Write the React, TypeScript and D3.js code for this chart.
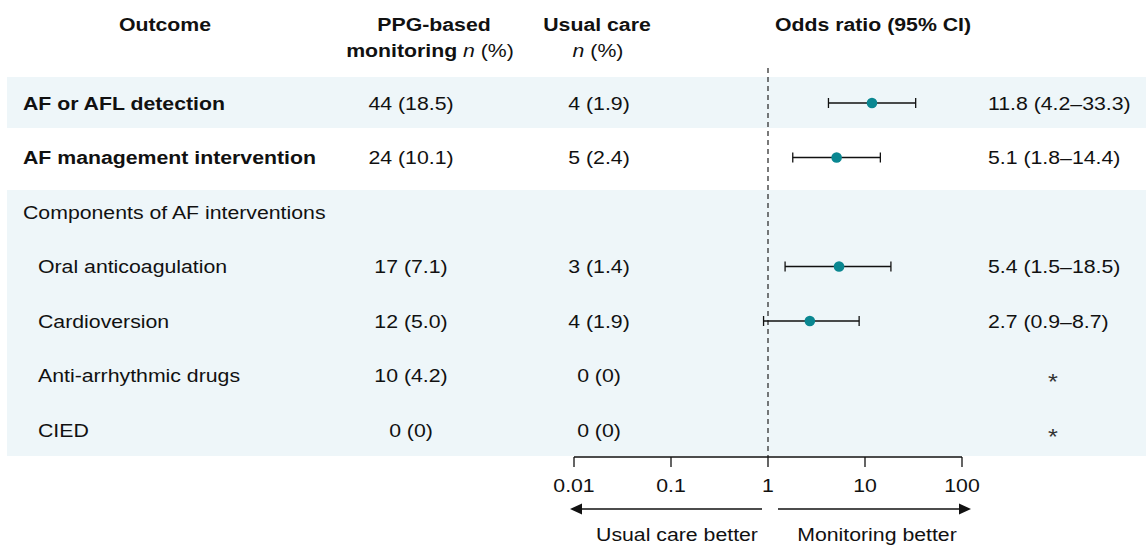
import React from "react";
import * as d3 from "d3";

const outcomes = [
  "AF or AFL detection",
  "AF management intervention",
  "Components of AF interventions",
  "Oral anticoagulation",
  "Cardioversion",
  "Anti-arrhythmic drugs",
  "CIED",
];
const rowKinds = ["main", "main", "group", "sub", "sub", "sub", "sub"];
const ppgValues = ["44 (18.5)", "24 (10.1)", "", "17 (7.1)", "12 (5.0)", "10 (4.2)", "0 (0)"];
const usualValues = ["4 (1.9)", "5 (2.4)", "", "3 (1.4)", "4 (1.9)", "0 (0)", "0 (0)"];
const oddsRatio: (number | null)[] = [11.8, 5.1, null, 5.4, 2.7, null, null];
const ciLow: (number | null)[] = [4.2, 1.8, null, 1.5, 0.9, null, null];
const ciHigh: (number | null)[] = [33.3, 14.4, null, 18.5, 8.7, null, null];
const orLabels = ["11.8 (4.2–33.3)", "5.1 (1.8–14.4)", "", "5.4 (1.5–18.5)", "2.7 (0.9–8.7)", "*", "*"];
const axisTicks = [0.01, 0.1, 1, 10, 100];
const axisTickLabels = ["0.01", "0.1", "1", "10", "100"];
const bandGroups = [[0, 0], [2, 6]];

const W = 1146;
const H = 545;
const SX = 1.15;
const FS = 18.5;
const FONT = "'Liberation Sans', Arial, Helvetica, sans-serif";
const TEAL = "#0a8791";
const BAND = "#eef6f9";

const T = ({ x, y, anchor = "start", weight = 400, fill = "#111", size = FS, children }: any) => (
  <text
    transform={`translate(${x},${y}) scale(${SX},1)`}
    textAnchor={anchor}
    fontWeight={weight}
    fontSize={size}
    fontFamily={FONT}
    fill={fill}
  >
    {children}
  </text>
);

export default function App() {
  const x = d3.scaleLog().domain([0.01, 100]).range([574, 962]);
  const y = d3.scaleLinear().domain([0, 6]).range([103, 430]);
  const axisY = 457;
  const x1 = x(1);

  return (
    <svg width={W} height={H} style={{ position: "absolute", left: 0, top: 0 }}>
      <rect x={0} y={0} width={W} height={H} fill="#fff" />
      {bandGroups.map(([a, b], i) => (
        <rect key={i} x={7} y={y(a) - 26 + (a > 0 ? 4 : 0)} width={W - 7} height={y(b) - y(a) + 51 - (a > 0 ? 3 : 0)} fill={BAND} />
      ))}

      {/* headers */}
      <T x={165} y={31} anchor="middle" weight={700}>Outcome</T>
      <T x={434} y={31} anchor="middle" weight={700}>PPG-based</T>
      <T x={430} y={57} anchor="middle">
        <tspan fontWeight={700}>monitoring </tspan>
        <tspan fontStyle="italic">n</tspan>
        <tspan> (%)</tspan>
      </T>
      <T x={597} y={31} anchor="middle" weight={700}>Usual care</T>
      <T x={598} y={57} anchor="middle">
        <tspan fontStyle="italic">n</tspan>
        <tspan> (%)</tspan>
      </T>
      <T x={873} y={31} anchor="middle" weight={700}>Odds ratio (95% CI)</T>

      {/* reference line */}
      <line x1={x1} x2={x1} y1={68} y2={axisY} stroke="#222" strokeWidth={1.2} strokeDasharray="5,4" />

      {/* rows */}
      {outcomes.map((o, i) => {
        const yc = y(i);
        const base = yc + 6.5;
        const kind = rowKinds[i];
        const lo = ciLow[i], hi = ciHigh[i], or = oddsRatio[i];
        return (
          <g key={i}>
            <T x={kind === "sub" ? 38 : 23} y={base} weight={kind === "main" ? 700 : 400}>{o}</T>
            {ppgValues[i] && <T x={411} y={base} anchor="middle">{ppgValues[i]}</T>}
            {usualValues[i] && <T x={599} y={base} anchor="middle">{usualValues[i]}</T>}
            {orLabels[i] === "*" ? (
              <T x={1053} y={base + 7} anchor="middle" fill="#333" size={22}>*</T>
            ) : orLabels[i] ? (
              <T x={988} y={base}>{orLabels[i]}</T>
            ) : null}
            {or != null && lo != null && hi != null && (
              <g stroke="#111" strokeWidth={1.3}>
                <line x1={x(lo)} x2={x(hi)} y1={yc} y2={yc} />
                <line x1={x(lo)} x2={x(lo)} y1={yc - 5} y2={yc + 5} />
                <line x1={x(hi)} x2={x(hi)} y1={yc - 5} y2={yc + 5} />
                <circle cx={x(or)} cy={yc} r={5.3} fill={TEAL} stroke="none" />
              </g>
            )}
          </g>
        );
      })}

      {/* axis */}
      <line x1={x(0.01)} x2={x(100)} y1={axisY} y2={axisY} stroke="#111" strokeWidth={1.3} />
      {axisTicks.map((t, i) => (
        <g key={t}>
          <line x1={x(t)} x2={x(t)} y1={axisY} y2={axisY + 10} stroke="#111" strokeWidth={1.3} />
          <T x={x(t)} y={492} anchor="middle">{axisTickLabels[i]}</T>
        </g>
      ))}

      {/* direction arrows */}
      <line x1={581} x2={x1 - 6} y1={509} y2={509} stroke="#111" strokeWidth={1.5} />
      <path d={`M570,509 L582,503.5 L582,514.5 Z`} fill="#111" />
      <line x1={x1 + 10} x2={960} y1={509} y2={509} stroke="#111" strokeWidth={1.5} />
      <path d={`M971,509 L959,503.5 L959,514.5 Z`} fill="#111" />
      <T x={677} y={541} anchor="middle">Usual care better</T>
      <T x={877} y={541} anchor="middle">Monitoring better</T>
    </svg>
  );
}
